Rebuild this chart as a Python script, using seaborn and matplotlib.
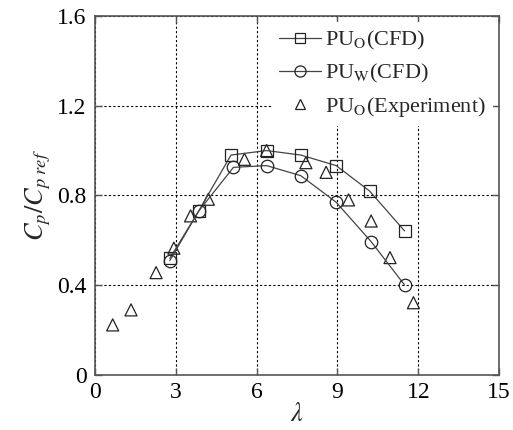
import matplotlib
matplotlib.use("Agg")
import matplotlib.pyplot as plt
from matplotlib.lines import Line2D
import seaborn as sns
import pandas as pd

# ---- data ----
lam_cfd_o = [2.78, 3.85, 5.05, 6.37, 7.64, 8.95, 10.19, 11.49]
cp_cfd_o = [0.52, 0.73, 0.98, 1.00, 0.98, 0.933, 0.82, 0.642]

lam_cfd_w = [2.78, 3.85, 5.14, 6.37, 7.64, 8.95, 10.25, 11.49]
cp_cfd_w = [0.51, 0.73, 0.925, 0.933, 0.888, 0.77, 0.594, 0.401]

lam_exp = [0.66, 1.34, 2.27, 2.93, 3.55, 4.21, 5.55, 6.37, 7.83, 8.58, 9.41, 10.25, 10.95, 11.82]
cp_exp = [0.223, 0.29, 0.456, 0.565, 0.709, 0.783, 0.961, 1.00, 0.946, 0.903, 0.78, 0.686, 0.523, 0.322]

x_ticks = [0, 3, 6, 9, 12, 15]
y_ticks = [0, 0.4, 0.8, 1.2, 1.6]
y_tick_labels = ["0", "0.4", "0.8", "1.2", "1.6"]
labels = [r"PU$_\mathrm{O}$(CFD)", r"PU$_\mathrm{W}$(CFD)", r"PU$_\mathrm{O}$(Experiment)"]

sns.set_style("white")
plt.rcParams["font.family"] = ["Liberation Serif", "DejaVu Serif"]
plt.rcParams["mathtext.fontset"] = "stix"

df_o = pd.DataFrame({"lam": lam_cfd_o, "cp": cp_cfd_o})
df_w = pd.DataFrame({"lam": lam_cfd_w, "cp": cp_cfd_w})
df_e = pd.DataFrame({"lam": lam_exp, "cp": cp_exp})

fig = plt.figure(figsize=(5.13, 4.30), dpi=100)
ax = fig.add_axes([0.185, 0.128, 0.788, 0.835])

mk = dict(markerfacecolor="none", markeredgecolor="#222222", markeredgewidth=0.9)
sns.lineplot(data=df_o, x="lam", y="cp", ax=ax, color="#444444", linewidth=0.9,
             marker="s", markersize=8, **mk)
sns.lineplot(data=df_w, x="lam", y="cp", ax=ax, color="#444444", linewidth=0.9,
             marker="o", markersize=9, **mk)
sns.scatterplot(data=df_e, x="lam", y="cp", ax=ax, marker="^", s=75,
                facecolor="none", edgecolor="#222222", linewidth=0.9)

ax.set_xlim(0, 15)
ax.set_ylim(0, 1.6)
ax.set_xticks(x_ticks)
ax.set_yticks(y_ticks)
ax.set_yticklabels(y_tick_labels)
ax.grid(True, color="black", linestyle=(0, (2, 2)), linewidth=0.8)
ax.set_axisbelow(True)

for s in ax.spines.values():
    s.set_color("#555555")
    s.set_linewidth(1.2)
ax.tick_params(direction="in", length=5, width=1, colors="#555555",
               labelcolor="black", labelsize=17, top=True, right=True,
               bottom=True, left=True)
ax.tick_params(axis="x", pad=5)
ax.tick_params(axis="y", pad=6)

ax.set_xlabel(r"$\lambda$", fontsize=19, labelpad=0)
ax.set_ylabel(r"$C_p/C_{p\ ref}$", fontsize=19, labelpad=3)

handles = [
    Line2D([], [], color="#444444", linewidth=0.9, marker="s", markersize=7, **mk),
    Line2D([], [], color="#444444", linewidth=0.9, marker="o", markersize=8, **mk),
    Line2D([], [], linestyle="none", marker="^", markersize=7, **mk),
]
leg = ax.legend(handles, labels, loc="upper right", bbox_to_anchor=(0.995, 0.995),
                fontsize=16, frameon=True,
                framealpha=1, facecolor="white", edgecolor="white",
                handlelength=1.9, handletextpad=0.2, labelspacing=0.45,
                borderpad=0.3, borderaxespad=0.2, fancybox=False)
leg.get_frame().set_linewidth(0)

fig.savefig("out.png", dpi=100)
